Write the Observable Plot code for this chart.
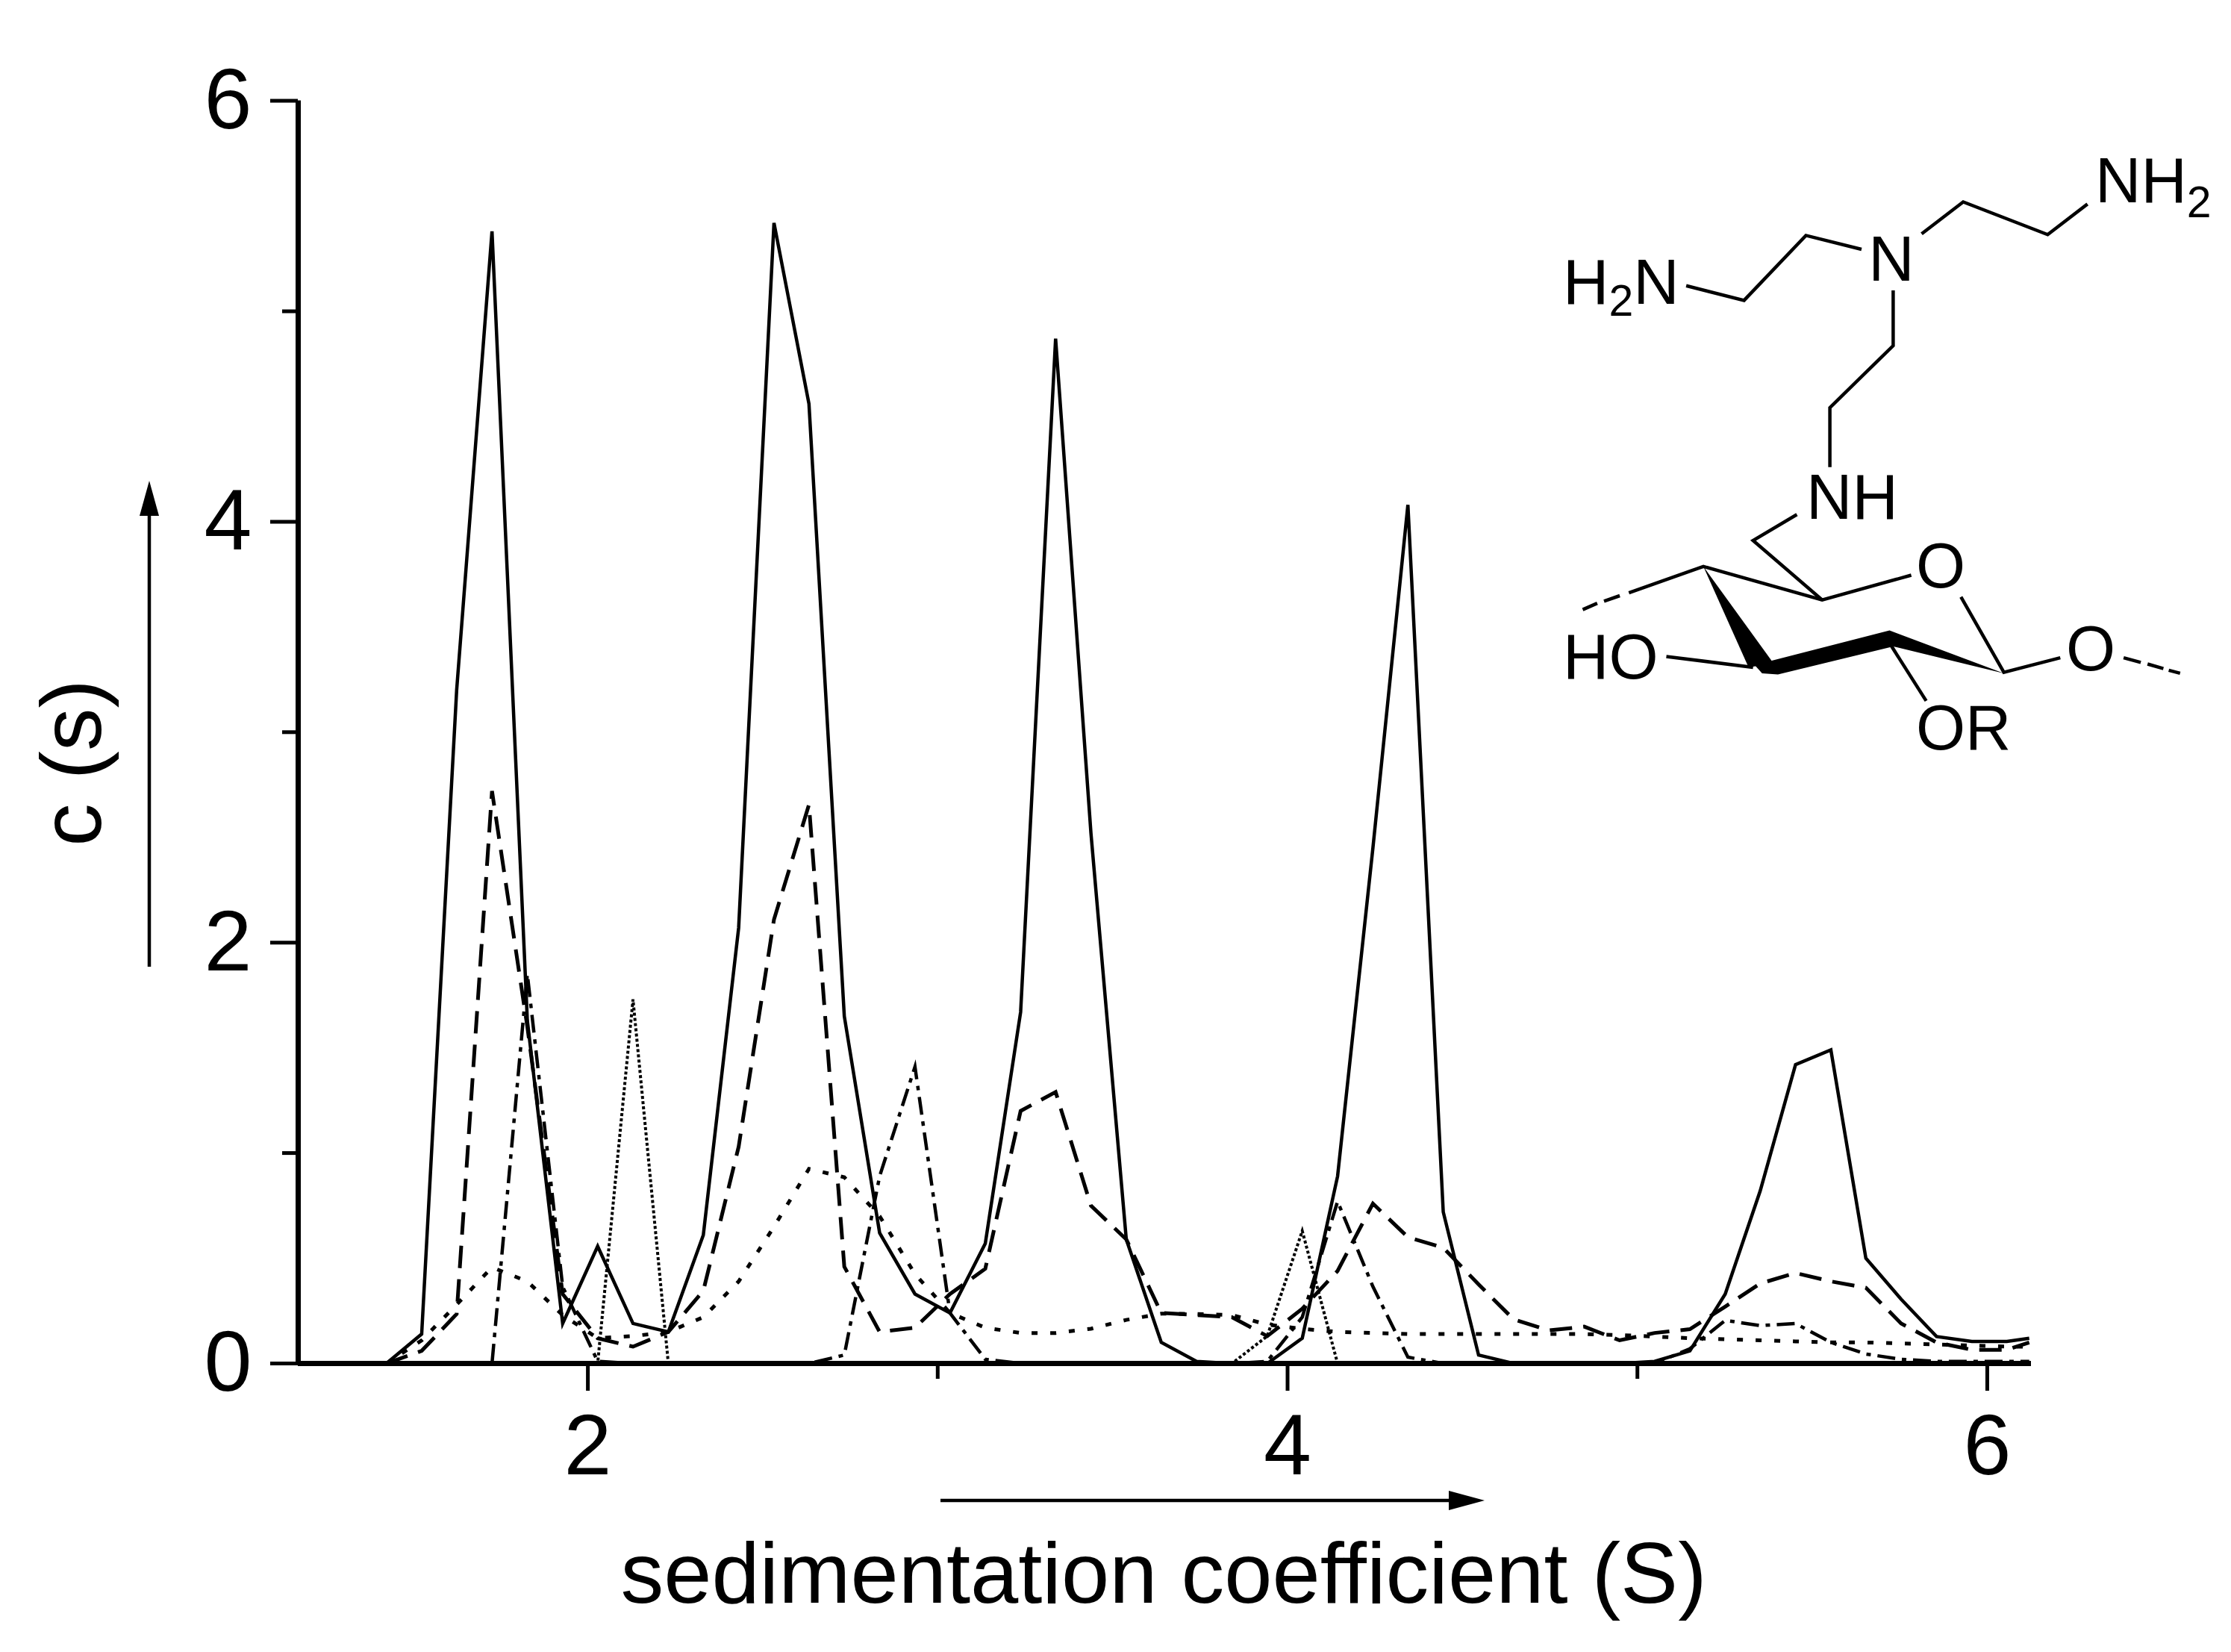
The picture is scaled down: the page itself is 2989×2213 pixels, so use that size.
<!DOCTYPE html>
<html>
<head>
<meta charset="utf-8">
<script src="https://cdn.jsdelivr.net/npm/d3@7"></script>
<script src="https://cdn.jsdelivr.net/npm/@observablehq/plot@0.6"></script>
<style>
html,body{margin:0;padding:0;background:#fff}
svg{display:block}
</style>
</head>
<body>
<div id="chart"></div>
<script>
// Sedimentation coefficient grid (S)
const sedimentation = [1.424,1.525,1.625,1.726,1.827,1.928,2.028,2.129,2.23,2.33,2.431,2.532,2.632,2.733,2.834,2.935,3.035,3.136,3.237,3.337,3.438,3.539,3.639,3.74,3.841,3.942,4.042,4.143,4.244,4.344,4.445,4.546,4.646,4.747,4.848,4.949,5.049,5.15,5.251,5.351,5.452,5.553,5.653,5.754,5.855,5.956,6.056,6.12];

// c(s) series
const solid = [0,.14,3.2,5.38,1.63,.19,.557,.19,.15,.61,2.07,5.42,4.56,1.65,.62,.33,.24,.57,1.67,4.87,2.52,.59,.10,.01,0,0,.12,.89,2.45,4.08,.72,.04,0,0,0,0,.01,.06,.33,.82,1.42,1.49,.50,.305,.128,.105,.105,.12];
const dashed = [0,.06,.235,2.72,1.6,.33,.12,.08,.15,.345,1.03,2.11,2.655,.46,.15,.17,.33,.45,1.20,1.29,.75,.59,.24,.23,.22,.13,.26,.44,.76,.60,.55,.376,.21,.157,.175,.11,.145,.163,.27,.38,.43,.39,.36,.19,.10,.065,.065,.10];
const dashDot = [0,0,0,0,1.85,.365,.01,0,0,0,0,0,0,.04,.89,1.41,.24,.02,0,0,0,0,0,0,0,.01,.22,.77,.365,.03,0,0,0,0,0,0,0,.07,.205,.18,.19,.10,.045,.02,.01,.01,.01,.01];
const sparseDot = [0,.11,.28,.457,.39,.23,.12,.13,.15,.22,.39,.65,.925,.885,.70,.425,.24,.17,.145,.145,.165,.207,.237,.235,.23,.185,.165,.15,.145,.14,.14,.14,.14,.14,.14,.135,.128,.12,.115,.11,.105,.10,.10,.095,.09,.085,.08,.08];
const fineDot = [0,0,0,0,0,0,0,1.73,0,0,0,0,0,0,0,0,0,0,0,0,0,0,0,0,0,.13,.63,0,0,0,0,0,0,0,0,0,0,0,0,0,0,0,0,0,0,0,0,0];

const xTicksMajor = [2,4,6];
const xTicksMinor = [3,5];
const yTicksMajor = [0,2,4,6];
const yTicksMinor = [1,3,5];
const xLabel = "sedimentation coefficient (S)";
const yLabel = "c (s)";

const font = '"Liberation Sans", Arial, sans-serif';

const row = ys => ys.map((y,i)=>({x:sedimentation[i],y}));
const lineOf = (ys,opts) => Plot.line(row(ys),{x:"x",y:"y",stroke:"#000",strokeLinecap:"butt",strokeLinejoin:"miter",strokeMiterlimit:6,...opts});

// Annotation layer: axis titles, arrows and the structural formula inset
function annotations(){
  const g = d3.create("svg:g").attr("font-family",font).attr("fill","#000");
  const txt = (x,y,s,size,extra={})=>{
    const t = g.append("text").attr("x",x).attr("y",y).attr("font-size",size).text(s);
    for(const k in extra) t.attr(k,extra[k]);
    return t;
  };
  txt(1559,2147,xLabel,115.5,{"text-anchor":"middle"});
  txt(135,1022,yLabel,115,{"text-anchor":"middle",transform:"rotate(-90 135 1022)"});

  // direction arrows
  g.append("path").attr("d","M200 1295V680M1260 2010H1950").attr("stroke","#000").attr("stroke-width",4.5).attr("fill","none");
  g.append("path").attr("d","M200 644L187 691H213Z");
  g.append("path").attr("d","M1989 2010L1941 1997V2023Z");

  // structural formula
  const mx = z => 2040 + z/1.652, my = z => 160 + z/1.782;
  const path = pts => "M" + pts.map(([a,b])=>mx(a).toFixed(1)+" "+my(b).toFixed(1)).join("L");
  const bonds = [
    [[362,397],[490,432],[627,277],[750,310]],
    [[883,273],[975,197],[1162,275],[1250,202]],
    [[820,408],[820,540],[680,688],[680,830]],
    [[607,943],[510,1005],[663,1147]],
    [[235,1130],[400,1067],[663,1147],[860,1088]],
    [[970,1140],[1065,1320],[1190,1285]],
    [[318,1282],[510,1308]],
    [[815,1255],[893,1388]]
  ];
  for(const b of bonds) g.append("path").attr("d",path(b)).attr("fill","none").attr("stroke","#000").attr("stroke-width",4.5);
  const dashes = [
    [[215,1137],[180,1150]],[[165,1155],[133,1170]],
    [[1330,1285],[1368,1296]],[[1383,1300],[1418,1311]],[[1430,1315],[1455,1322]]
  ];
  for(const b of dashes) g.append("path").attr("d",path(b)).attr("fill","none").attr("stroke","#000").attr("stroke-width",4.5);
  g.append("path").attr("d",path([[400,1067],[500,1308],[555,1298]])+"Z");
  g.append("path").attr("d",path([[510,1298],[530,1322],[565,1325],[820,1258],[1065,1322],[812,1220],[540,1295]])+"Z");

  const atom = (x,y,parts,anchor="start")=>{
    const t = g.append("text").attr("x",x).attr("y",y).attr("font-size",85).attr("text-anchor",anchor);
    for(const p of parts){
      const s = t.append("tspan").text(p.s);
      if(p.size) s.attr("font-size",p.size);
      if(p.dy) s.attr("dy",p.dy);
    }
  };
  atom(2094,407,[{s:"H"},{s:"2",size:59,dy:16},{s:"N",dy:-16}]);
  atom(2807,271,[{s:"NH"},{s:"2",size:59,dy:20}]);
  atom(2534,376,[{s:"N"}],"middle");
  atom(2420,695,[{s:"NH"}]);
  atom(2600,787,[{s:"O"}],"middle");
  atom(2801,898,[{s:"O"}],"middle");
  atom(2094,909,[{s:"HO"}]);
  atom(2567,1004,[{s:"OR"}]);
  return g.node();
}

const chart = Plot.plot({
  width:2989,
  height:2213,
  marginLeft:399,
  marginRight:268,
  marginTop:134.6,
  marginBottom:387,
  style:{background:"#fff",color:"#000",fontFamily:font,overflow:"visible"},
  x:{domain:[1.172,6.126]},
  y:{domain:[0,6]},
  marks:[
    lineOf(fineDot,{strokeWidth:4,strokeDasharray:"4,3"}),
    lineOf(sparseDot,{strokeWidth:5,strokeDasharray:"8,17"}),
    lineOf(dashDot,{strokeWidth:4.5,strokeDasharray:"24,9,6,9"}),
    lineOf(dashed,{strokeWidth:5,strokeDasharray:"30,15"}),
    lineOf(solid,{strokeWidth:4.5}),
    Plot.axisX({ticks:xTicksMajor,tickSize:37,tickPadding:30,fontSize:115,strokeWidth:5,stroke:"#000",fill:"#000",label:null,tickFormat:d=>String(d)}),
    Plot.axisX({ticks:xTicksMinor,tickSize:21,strokeWidth:5,stroke:"#000",fill:"none",label:null}),
    Plot.axisY({ticks:yTicksMajor,tickSize:37,tickPadding:25,fontSize:115,strokeWidth:5,stroke:"#000",fill:"#000",label:null,tickFormat:d=>String(d)}),
    Plot.axisY({ticks:yTicksMinor,tickSize:21,strokeWidth:5,stroke:"#000",fill:"none",label:null}),
    Plot.ruleX([1.172],{stroke:"#000",strokeWidth:7}),
    Plot.ruleY([0],{x1:1.172,x2:6.126,stroke:"#000",strokeWidth:7}),
    annotations
  ]
});
document.getElementById("chart").appendChild(chart);
</script>
</body>
</html>
